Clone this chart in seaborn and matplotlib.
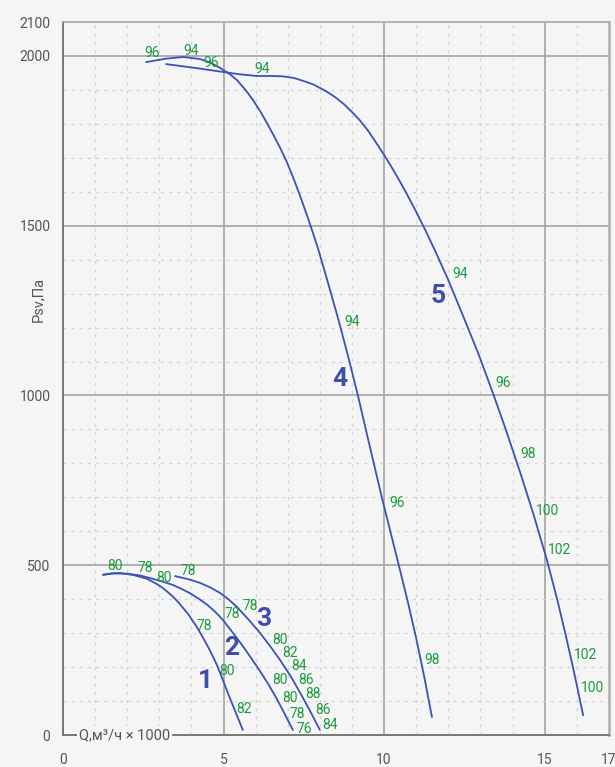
import matplotlib
matplotlib.use("Agg")
import matplotlib.pyplot as plt
import seaborn as sns
import pandas as pd
import numpy as np
from matplotlib.ticker import MultipleLocator

sns.set_theme(style="white")
plt.rcParams["font.family"] = ["Roboto", "DejaVu Sans"]

# Fan curves: Q (thousand m3/h) vs static pressure Psv (Pa)
q1 = [1.25, 1.5, 1.8, 2.2, 2.62, 2.9, 3.11, 3.4, 3.6, 3.9, 4.17, 4.4, 4.6,
      4.8, 4.98, 5.15, 5.3, 5.45, 5.6]
p1 = [472, 476, 477, 471, 460, 446, 433, 410, 390, 356, 318, 280, 245,
      205, 162, 120, 85, 50, 15]

q2 = [1.25, 1.6, 2.0, 2.4, 2.8, 3.1, 3.42, 3.7, 3.95, 4.25, 4.5, 4.75, 4.98,
      5.3, 5.6, 5.9, 6.13, 6.4, 6.65, 6.9, 7.16]
p2 = [472, 476, 475, 470, 460, 452, 442, 430, 418, 400, 383, 362, 339,
      300, 262, 221, 189, 149, 108, 63, 15]

q3 = [3.49, 3.9, 4.27, 4.6, 4.9, 5.15, 5.42, 5.75, 6.1, 6.45, 6.76, 7.1,
      7.4, 7.7, 8.0]
p3 = [468, 459, 448, 434, 418, 400, 377, 343, 305, 262, 221, 172,
      122, 70, 15]

q4 = [2.59, 3.2, 3.74, 4.27, 4.6, 4.89, 5.2, 5.42, 5.7, 5.92, 6.15, 6.35,
      6.55, 6.76, 6.96, 7.16, 7.4, 7.65, 7.94, 8.25, 8.6, 8.9, 9.19, 9.55,
      9.93, 10.2, 10.49, 10.75, 11.0, 11.25, 11.49]
p4 = [1982, 1992, 1997, 1991, 1980, 1965, 1946, 1929, 1898, 1870, 1836, 1803,
      1768, 1730, 1690, 1644, 1584, 1517, 1434, 1333, 1216, 1108, 998, 852,
      700, 598, 488, 388, 285, 172, 53]

q5 = [3.21, 4.1, 4.98, 5.5, 6.04, 6.5, 6.85, 7.2, 7.5, 7.8, 8.0, 8.25, 8.5,
      8.75, 9.0, 9.25, 9.5, 9.75, 9.99, 10.2, 10.43, 10.7, 11.0, 11.3, 11.58,
      12.0, 12.5, 12.95, 13.39, 13.8, 14.25, 14.65, 15.07, 15.4, 15.65, 15.9,
      16.2]
p5 = [1976, 1965, 1953, 1946, 1941, 1941, 1940, 1935, 1926, 1916, 1906, 1893,
      1877, 1858, 1835, 1810, 1780, 1745, 1710, 1678, 1641, 1595, 1541, 1484,
      1428, 1340, 1225, 1120, 1007, 897, 770, 651, 516, 396, 297, 192, 58]

curves = [("1", q1, p1), ("2", q2, p2), ("3", q3, p3), ("4", q4, p4), ("5", q5, p5)]

# Curve numbers and their positions
curve_ids = ["1", "2", "3", "4", "5"]
id_q = [4.42, 5.26, 6.26, 8.63, 11.68]
id_p = [159, 256, 341, 1050, 1294]

# Marks along the curves
mark_text = ["96", "94", "96", "94", "94", "96", "98", "94", "96", "98", "100",
             "102", "102", "100",
             "80", "78", "80", "78", "78", "78", "78", "80", "82", "80", "80",
             "78", "76", "80", "82", "84", "86", "88", "86", "84"]
mark_q = [2.77, 3.99, 4.61, 6.2, 9.0, 10.4, 11.5, 12.37, 13.7, 14.49, 15.08,
          15.45, 16.26, 16.48,
          1.62, 2.55, 3.15, 3.9, 4.39, 5.26, 5.83, 5.11, 5.64, 6.76, 7.07,
          7.29, 7.51, 6.76, 7.07, 7.35, 7.57, 7.79, 8.1, 8.32]
mark_p = [2009, 2015, 1979, 1962, 1215, 682, 221, 1359, 1038, 829, 659,
          544, 235, 138,
          497, 491, 462, 482, 321, 356, 379, 188, 76, 162, 109,
          62, 18, 279, 241, 203, 162, 121, 74, 29]

x_ticks = [0, 5, 10, 15, 17]
y_ticks = [0, 500, 1000, 1500, 2000, 2100]

BG = "#f5f5f5"
LINE = "#3c52b4"
ID_COLOR = "#3f4ea6"
GREEN = "#1b9a3e"
TXT = "#555555"

frames = []
for name, q, p in curves:
    frames.append(pd.DataFrame({"Q": q, "P": p, "curve": name}))
df = pd.concat(frames, ignore_index=True)

fig = plt.figure(figsize=(6.15, 7.67), dpi=100, facecolor=BG)
ax = fig.add_axes([0.1024, 0.0417, 0.8876, 0.9296])
ax.set_facecolor(BG)

sns.lineplot(data=df, x="Q", y="P", units="curve", estimator=None, sort=False,
             color=LINE, linewidth=1.3, ax=ax, legend=False)

ax.set_xlim(0, 17)
ax.set_ylim(0, 2100)

# grid: solid major lines, dashed minor lines
for xv in np.arange(1, 17, 1):
    if xv % 5 == 0:
        ax.axvline(xv, color="#a4a4a4", lw=1.2, zorder=0)
    else:
        ax.axvline(xv, color="#d2d2d2", lw=0.9, ls=(0, (2.5, 4)), zorder=0)
for yv in np.arange(100, 2100, 100):
    if yv % 500 == 0:
        ax.axhline(yv, color="#a4a4a4", lw=1.2, zorder=0)
    else:
        ax.axhline(yv, color="#d2d2d2", lw=0.9, ls=(0, (2.5, 4)), zorder=0)

ax.set_xticks(x_ticks)
ax.set_xticklabels([str(v) for v in x_ticks])
ax.set_yticks(y_ticks)
ax.set_yticklabels([str(v) for v in y_ticks])
ax.xaxis.set_minor_locator(MultipleLocator(1))
ax.yaxis.set_minor_locator(MultipleLocator(100))
ax.tick_params(axis="both", which="major", direction="inout", length=10,
               width=1.2, color="#777777", labelsize=10, labelcolor=TXT)
ax.tick_params(axis="both", which="minor", direction="inout", length=8,
               width=1.2, color="#777777")
ax.tick_params(axis="x", which="major", pad=8)
ax.tick_params(axis="y", which="major", pad=4)

for side in ["left", "bottom"]:
    ax.spines[side].set_color("#777777")
    ax.spines[side].set_linewidth(1.4)
ax.spines["right"].set_color("#b4b4b4")
ax.spines["right"].set_linewidth(2.0)
ax.spines["top"].set_color("#a8a8a8")
ax.spines["top"].set_linewidth(1.2)

ax.set_xlabel("")
ax.set_ylabel("")
ax.text(0.5, 0, "Q,м³/ч × 1000", fontsize=10.5, color=TXT, ha="left",
        va="center", zorder=6,
        bbox=dict(boxstyle="square,pad=0.15", fc=BG, ec="none"))
fig.text(0.062, 0.61, "Psv,Па", rotation=90, fontsize=10.5, color=TXT,
         ha="center", va="center")

for t, xq, yp in zip(curve_ids, id_q, id_p):
    ax.text(xq, yp, t, fontsize=19, fontweight="bold", color=ID_COLOR,
            ha="center", va="center", zorder=5)

for t, xq, yp in zip(mark_text, mark_q, mark_p):
    ax.text(xq, yp, t, fontsize=10, color=GREEN, ha="center", va="center",
            zorder=5)

fig.savefig("out.png", dpi=100, facecolor=BG)
